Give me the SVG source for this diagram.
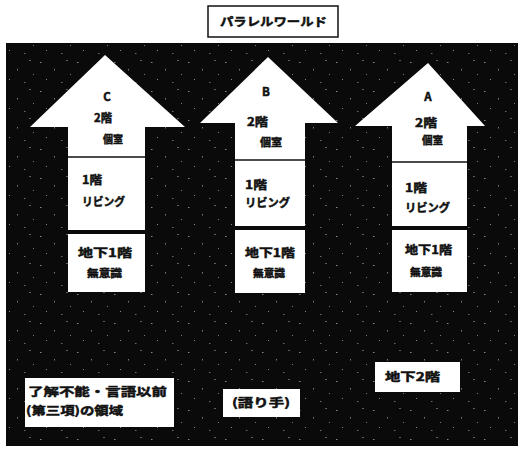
<svg xmlns="http://www.w3.org/2000/svg" width="518" height="449" viewBox="0 0 518 449">
<defs>
<pattern id="noise" width="37" height="29" patternUnits="userSpaceOnUse">
<rect x="3" y="4" width="1.5" height="1" fill="#fff" opacity="0.5"/>
<rect x="17" y="11" width="1" height="1.5" fill="#fff" opacity="0.45"/>
<rect x="29" y="2" width="2" height="1" fill="#fff" opacity="0.35"/>
<rect x="9" y="21" width="1" height="1" fill="#fff" opacity="0.5"/>
<rect x="24" y="24" width="1.5" height="1" fill="#fff" opacity="0.4"/>
<rect x="33" y="16" width="1" height="1" fill="#fff" opacity="0.45"/>
</pattern>
<style>
text{font-family:"Noto Sans CJK JP","Noto Sans",sans-serif;font-weight:bold;fill:#111;stroke:#111;stroke-width:0.5;font-size:11.5px}
.sm{font-size:10.5px}
.arrow{fill:#fff;stroke:none}
.div{stroke:#111;stroke-width:1.5}
.gap{fill:#0a0a0a}
.box{fill:#fff}
</style>
</defs>
<rect x="0" y="0" width="518" height="449" fill="#fff"/>
<rect x="6" y="43" width="512" height="403" fill="#0a0a0a"/>
<rect x="6" y="43" width="512" height="403" fill="url(#noise)"/>
<g id="title">
<rect x="208" y="6" width="130" height="31" fill="#fff" stroke="#111" stroke-width="1.5"/>
<text x="220" y="26" font-size="12.5" textLength="107" lengthAdjust="spacingAndGlyphs">パラレルワールド</text>
</g>
<g id="nodeC">
<polygon class="arrow" points="105,55 185,127 145,127 145,292 68,292 68,127 30,127"/>
<line class="div" x1="68" y1="157" x2="145" y2="157"/>
<rect class="gap" x="68" y="230" width="77" height="4"/>
<text x="107" y="101" text-anchor="middle">C</text>
<text x="94" y="122" textLength="18" lengthAdjust="spacingAndGlyphs">2階</text>
<text class="sm" x="103" y="143" textLength="20" lengthAdjust="spacingAndGlyphs">個室</text>
<text x="82" y="184" textLength="20" lengthAdjust="spacingAndGlyphs">1階</text>
<text x="82" y="206" textLength="43" lengthAdjust="spacingAndGlyphs">リビング</text>
<text x="78" y="257" textLength="54" lengthAdjust="spacingAndGlyphs">地下1階</text>
<text class="sm" x="87" y="277" textLength="35" lengthAdjust="spacingAndGlyphs">無意識</text>
</g>
<g id="nodeB">
<polygon class="arrow" points="268,57 338,123 305,123 305,293 235,293 235,123 200,123"/>
<line class="div" x1="235" y1="160" x2="305" y2="160"/>
<rect class="gap" x="235" y="226" width="70" height="4"/>
<text x="266" y="96" text-anchor="middle">B</text>
<text x="247" y="126" textLength="21" lengthAdjust="spacingAndGlyphs">2階</text>
<text class="sm" x="260" y="146" textLength="22" lengthAdjust="spacingAndGlyphs">個室</text>
<text x="245" y="189" textLength="22" lengthAdjust="spacingAndGlyphs">1階</text>
<text x="245" y="207" textLength="45" lengthAdjust="spacingAndGlyphs">リビング</text>
<text x="245" y="257" textLength="50" lengthAdjust="spacingAndGlyphs">地下1階</text>
<text class="sm" x="253" y="277" textLength="32" lengthAdjust="spacingAndGlyphs">無意識</text>
</g>
<g id="nodeA">
<polygon class="arrow" points="428,63 485,126 467,126 467,292 392,292 392,126 355,126"/>
<line class="div" x1="392" y1="162" x2="467" y2="162"/>
<rect class="gap" x="392" y="226" width="75" height="4"/>
<text x="428" y="101" text-anchor="middle">A</text>
<text x="415" y="127" textLength="22" lengthAdjust="spacingAndGlyphs">2階</text>
<text class="sm" x="422" y="144" textLength="21" lengthAdjust="spacingAndGlyphs">個室</text>
<text x="405" y="192" textLength="22" lengthAdjust="spacingAndGlyphs">1階</text>
<text x="405" y="212" textLength="45" lengthAdjust="spacingAndGlyphs">リビング</text>
<text x="405" y="254" textLength="47" lengthAdjust="spacingAndGlyphs">地下1階</text>
<text class="sm" x="410" y="276" textLength="32" lengthAdjust="spacingAndGlyphs">無意識</text>
</g>
<g id="region">
<rect class="box" x="25" y="378" width="149" height="49"/>
<text x="28" y="396" font-size="12.5" textLength="139" lengthAdjust="spacingAndGlyphs">了解不能・言語以前</text>
<text x="26" y="415" font-size="12.5" textLength="97" lengthAdjust="spacingAndGlyphs">(第三項)の領域</text>
</g>
<g id="narrator">
<rect class="box" x="223" y="389" width="77" height="28"/>
<text x="232" y="407" font-size="12" textLength="58" lengthAdjust="spacingAndGlyphs">(語り手)</text>
</g>
<g id="b2">
<rect class="box" x="375" y="362" width="85" height="30"/>
<text x="385" y="381" font-size="12.5" textLength="55" lengthAdjust="spacingAndGlyphs">地下2階</text>
</g>
<g id="connectors"></g>
</svg>
